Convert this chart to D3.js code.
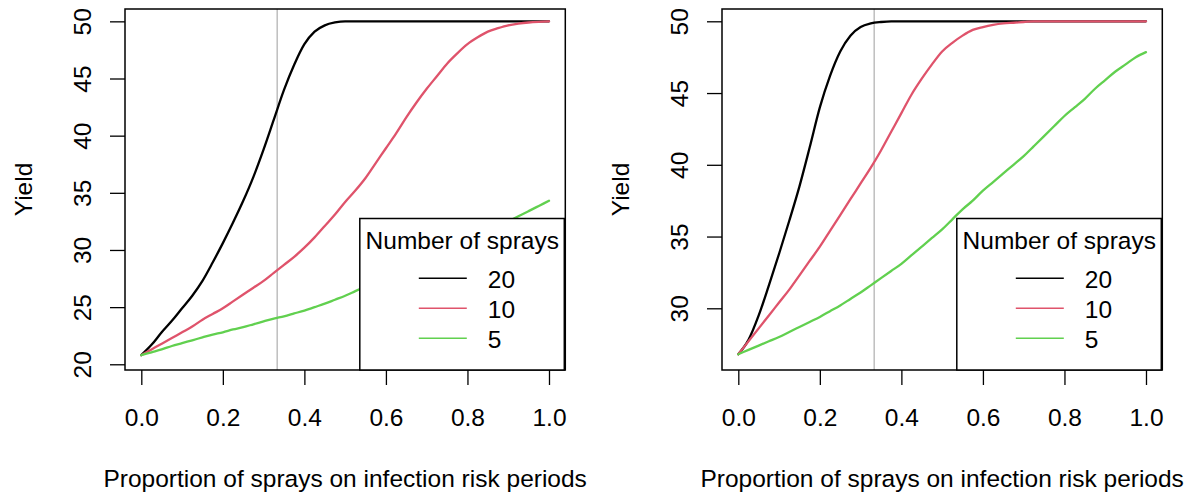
<!DOCTYPE html>
<html><head><meta charset="utf-8">
<script src="https://cdn.jsdelivr.net/npm/d3@7"></script>
<style>
body{margin:0;background:#fff}
text{font-family:"Liberation Sans",Arial,sans-serif;fill:#000}
</style>
</head><body>
<svg id="chart" width="1194" height="495"></svg>
<script>
// ---- data ----
const proportion = [0,0.025,0.05,0.075,0.1,0.125,0.15,0.175,0.2,0.225,0.25,0.275,0.3,0.325,0.35,0.375,0.4,0.425,0.45,0.475,0.5,0.525,0.55,0.575,0.6,0.625,0.65,0.675,0.7,0.725,0.75,0.775,0.8,0.825,0.85,0.875,0.9,0.925,0.95,0.975,1];

const leftSprays20 = [20.8,21.7,22.8,23.8,24.9,26.0,27.3,28.9,30.6,32.4,34.3,36.4,38.8,41.4,44.0,46.2,48.0,49.1,49.65,49.9,50,50,50,50,50,50,50,50,50,50,50,50,50,50,50,50,50,50,50,50,50];
const leftSprays10 = [20.8,21.3,21.8,22.3,22.8,23.3,23.9,24.4,24.9,25.5,26.1,26.7,27.3,28.0,28.7,29.4,30.2,31.1,32.1,33.1,34.2,35.2,36.3,37.6,38.9,40.2,41.6,42.9,44.1,45.2,46.3,47.2,48.0,48.6,49.1,49.4,49.65,49.8,49.9,49.96,50];
const leftSprays5 = [20.8,21.05,21.3,21.6,21.85,22.1,22.35,22.6,22.8,23.05,23.25,23.5,23.75,24.0,24.2,24.45,24.7,25.0,25.3,25.65,26.0,26.4,26.8,27.2,27.6,28.0,28.4,28.8,29.2,29.6,30.0,30.4,30.8,31.2,31.6,32.05,32.5,32.95,33.4,33.85,34.3];

const rightSprays20 = [26.8,27.8,29.5,31.6,33.8,36.1,38.5,41.2,44.0,46.2,47.9,49.0,49.6,49.85,49.95,50,50,50,50,50,50,50,50,50,50,50,50,50,50,50,50,50,50,50,50,50,50,50,50,50,50];
const rightSprays10 = [26.8,27.7,28.6,29.5,30.4,31.3,32.3,33.3,34.3,35.4,36.5,37.6,38.7,39.8,41.0,42.3,43.6,44.9,46.0,47.0,47.9,48.5,49.0,49.4,49.6,49.75,49.85,49.9,49.95,50,50,50,50,50,50,50,50,50,50,50,50];
const rightSprays5 = [26.8,27.1,27.4,27.7,28.0,28.35,28.7,29.05,29.4,29.8,30.2,30.65,31.1,31.6,32.1,32.6,33.1,33.7,34.3,34.9,35.5,36.2,36.9,37.5,38.2,38.8,39.4,40.0,40.6,41.3,42.0,42.7,43.4,44.0,44.6,45.3,45.9,46.5,47.0,47.5,47.85];

const sprayLabels = ["20","10","5"];
const sprayColors = ["#000000","#DF536B","#61D04F"];
const xTicks = [0,0.2,0.4,0.6,0.8,1.0];
const yTicksLeft = [20,25,30,35,40,45,50];
const yTicksRight = [30,35,40,45,50];
const riskLine = 1/3;
const xTitle = "Proportion of sprays on infection risk periods";
const yTitle = "Yield";
const legendTitle = "Number of sprays";

// ---- layout ----
const svg = d3.select("#chart");
const panels = [
  {x0:125.0, x1:565.3, yDom:[19.5,51.08], yTicks:yTicksLeft, series:[leftSprays20,leftSprays10,leftSprays5]},
  {x0:722.0, x1:1162.3, yDom:[25.70,50.857], yTicks:yTicksRight, series:[rightSprays20,rightSprays10,rightSprays5]}
];
const plotTop = 9, plotBottom = 370;
const fs = 24.5;

panels.forEach(p => {
  const g = svg.append("g");
  const x = d3.scaleLinear().domain([-0.04,1.04]).range([p.x0,p.x1]);
  const y = d3.scaleLinear().domain(p.yDom).range([plotBottom,plotTop]);

  g.append("line").attr("x1",x(riskLine)).attr("x2",x(riskLine))
    .attr("y1",plotTop).attr("y2",plotBottom)
    .attr("stroke","#bebebe").attr("stroke-width",1.5);

  const line = d3.line().x((d,i)=>x(proportion[i])).y(d=>y(d)).curve(d3.curveMonotoneX);
  p.series.forEach((s,k)=>{
    g.append("path").datum(s).attr("d",line)
      .attr("fill","none").attr("stroke",sprayColors[k])
      .attr("stroke-width",2.3).attr("stroke-linejoin","round").attr("stroke-linecap","round");
  });

  const xa = g.append("g").attr("transform",`translate(0,${plotBottom})`)
    .call(d3.axisBottom(x).tickValues(xTicks).tickSize(15).tickFormat(d3.format(".1f")));
  xa.select(".domain").remove();
  xa.selectAll("line").attr("stroke","#000").attr("stroke-width",1.3);
  xa.selectAll("text").attr("y",null).attr("dy",null).attr("transform","translate(0,55.5)")
    .attr("font-size",fs).attr("fill","#000").style("font-family",'"Liberation Sans",Arial,sans-serif');

  const ya = g.append("g").attr("transform",`translate(${p.x0},0)`)
    .call(d3.axisLeft(y).tickValues(p.yTicks).tickSize(15).tickFormat(d3.format("d")));
  ya.select(".domain").remove();
  ya.selectAll("line").attr("stroke","#000").attr("stroke-width",1.3);
  ya.selectAll("text").attr("x",null).attr("dy",null).attr("text-anchor","middle")
    .attr("transform","translate(-34,0) rotate(-90)")
    .attr("font-size",fs).attr("fill","#000").style("font-family",'"Liberation Sans",Arial,sans-serif');

  g.append("rect").attr("x",p.x0).attr("y",plotTop).attr("width",p.x1-p.x0).attr("height",plotBottom-plotTop)
    .attr("fill","none").attr("stroke","#000").attr("stroke-width",1.5);

  g.append("text").attr("x",(p.x0+p.x1)/2).attr("y",486.5).attr("text-anchor","middle")
    .attr("font-size",fs).text(xTitle);
  g.append("text").attr("transform",`translate(${p.x0-93},${(plotTop+plotBottom)/2}) rotate(-90)`)
    .attr("text-anchor","middle").attr("font-size",fs).text(yTitle);

  const lw = 204.5, lx = p.x1 - 1 - lw, ly = 218.5;
  const lg = g.append("g").attr("transform",`translate(${lx},${ly})`);
  lg.append("rect").attr("x",0).attr("y",0).attr("width",lw).attr("height",plotBottom-ly)
    .attr("fill","#fff").attr("stroke","#000").attr("stroke-width",1.5);
  lg.append("text").attr("x",102.5).attr("y",30.8).attr("text-anchor","middle")
    .attr("font-size",fs).text(legendTitle);
  sprayLabels.forEach((lab,k)=>{
    const yy = 59.8 + k*30;
    lg.append("line").attr("x1",59).attr("x2",107).attr("y1",yy).attr("y2",yy)
      .attr("stroke",sprayColors[k]).attr("stroke-width",1.4);
    lg.append("text").attr("x",128).attr("y",yy+9.5).attr("font-size",fs).text(lab);
  });
});
</script>
</body></html>
